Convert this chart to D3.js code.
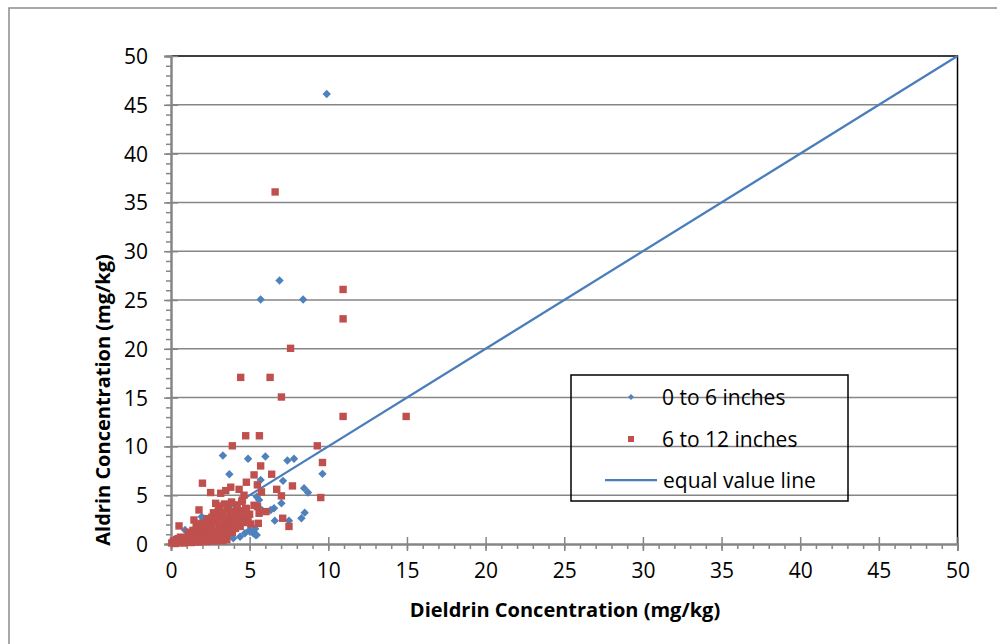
<!DOCTYPE html>
<html><head><meta charset="utf-8">
<script src="https://cdn.jsdelivr.net/npm/d3@7/dist/d3.min.js"></script>
<style>body{margin:0;background:#fff}svg{display:block}</style>
</head><body><svg id="c" width="997" height="644"></svg>
<script>
// ---- data ----
const seriesNames = ["0 to 6 inches", "6 to 12 inches", "equal value line"];
const xTicks = [0,5,10,15,20,25,30,35,40,45,50];
const yTicks = [0,5,10,15,20,25,30,35,40,45,50];
const minorTicks = d3.range(0,51,1);
const equalLine = [[0,0],[50,50]];
// 0 to 6 inches (Dieldrin, Aldrin)
const shallow = [
 [9.9,46.1],[6.9,27.0],[5.7,25.05],[8.4,25.05],
 [3.3,9.07],[4.9,8.73],[6.0,8.97],[7.4,8.55],[7.82,8.73],
 [3.71,7.15],[9.63,7.19],[5.7,6.57],[7.12,6.47],
 [8.46,5.72],[8.71,5.27],[5.6,4.52],[7.02,4.18],[6.55,3.66],[6.34,3.49],
 [8.5,3.21],[8.29,2.64],[6.6,2.39],[7.5,2.39],[5.38,0.92],[5.32,1.5],[4.1,3.49],
 [2.05,2.53],[2.37,2.12],[0.89,1.43],[1.42,0.75],[0.78,0.41],[3.96,4.17],[5.45,4.85],
 [5.0,1.43],[4.39,0.75],[5.77,3.48],[5.23,1.1],[1.95,2.8],[4.07,3.38],[3.43,2.8],
 [3.96,2.12],[5.02,1.26],[5.45,0.92],[5.34,1.6],[3.96,0.58],[4.7,1.1],[3.22,0.41],
 [2.37,0.41],[1.1,0.92],[0.3,0.2],[0.6,0.5],[1.0,0.6],[1.5,1.0],[2.0,1.2],[2.5,1.8],
 [3.0,2.0],[3.5,2.5],[4.0,3.0],[3.0,0.9],[4.6,2.6]
];
// 6 to 12 inches (Dieldrin, Aldrin)
const deep = [
 [6.62,36.07],[10.94,26.08],[10.94,23.07],[7.6,20.05],[4.43,17.07],[6.3,17.07],[7.02,15.06],
 [10.94,13.07],[14.95,13.07],[4.75,11.09],[5.62,11.09],[3.9,10.06],[9.3,10.06],
 [9.63,8.35],[5.7,8.0],[5.28,7.08],[6.4,7.15],[2.0,6.23],[4.79,6.33],[5.49,6.06],[7.72,5.95],
 [3.8,5.82],[2.52,5.27],[3.16,5.2],[3.48,5.47],[4.33,5.6],[5.75,5.34],[6.72,5.6],[7.02,4.93],
 [4.64,5.0],[4.54,4.5],[9.52,4.76],[2.84,4.17],[3.59,3.97],[1.78,3.49],[4.75,3.66],[5.28,3.97],
 [6.04,3.32],[7.1,2.64],[7.5,1.8],[5.6,3.15],[1.46,2.46],[0.51,1.85],[5.07,2.05],[5.55,2.12],[5.5,3.83],
 [0.05,0.1],[0.3,0.05],[0.55,0.15],[0.8,0.1],[1.05,0.2],[1.3,0.15],[1.55,0.25],[1.8,0.2],[2.05,0.3],
 [2.3,0.25],[2.55,0.35],[2.8,0.3],[3.05,0.4],[3.3,0.35],[3.55,0.45],
 [0.35,0.45],[0.6,0.7],[0.9,0.6],[1.2,0.8],[1.5,0.7],[1.8,0.9],[2.1,0.8],[2.4,0.95],[2.7,0.85],
 [3.0,1.0],[3.3,0.9],[3.6,1.1],[3.9,1.2],
 [1.1,1.2],[1.4,1.4],[1.7,1.3],[2.0,1.5],[2.3,1.4],[2.6,1.5],[2.9,1.4],[3.2,1.6],[3.5,1.5],
 [3.8,1.7],[4.1,1.6],[4.4,1.8],
 [1.6,1.9],[1.9,2.1],[2.2,1.95],[2.5,2.1],[2.8,2.2],[3.1,2.05],[3.4,2.2],[3.7,2.3],[4.0,2.1],
 [4.3,2.4],[4.6,2.2],[4.9,2.5],
 [2.3,2.6],[2.6,2.75],[2.9,2.65],[3.2,2.8],[3.5,2.7],[3.8,2.9],[4.1,2.75],[4.4,3.0],[4.7,2.85],[5.0,3.05],
 [2.7,3.2],[3.0,3.4],[3.3,3.25],[3.6,3.5],[3.9,3.35],[4.2,3.55],[4.5,3.4],[4.8,3.6],
 [3.1,3.9],[3.4,4.1],[3.85,4.3],[4.2,4.0],[4.5,4.35],
 [0.15,0.3],[0.45,0.55],[0.7,0.35],[1.0,0.45],[1.3,0.55],[1.6,0.5],[1.9,0.55],[2.2,0.6],
 [2.5,0.65],[2.8,0.6],[3.1,0.7],[3.4,0.65]
];

// ---- drawing ----
const blue = "#4F81BD", red = "#C0504D", grid = "#868686";
const font = "'Open Sans', sans-serif";
const svg = d3.select("#c");
const x = d3.scaleLinear().domain([0,50]).range([171,957.5]);
const y = d3.scaleLinear().domain([0,50]).range([544,56]);

// outer chart border
svg.append("rect").attr("x",9).attr("y",8).attr("width",1010).attr("height",700)
  .attr("fill","#fff").attr("stroke","#8c8c8c").attr("stroke-width",1.5);

// horizontal gridlines
svg.append("g").selectAll("line").data(yTicks.filter(d=>d>0 && d<50)).join("line")
  .attr("x1",x(0)).attr("x2",x(50)).attr("y1",d=>y(d)).attr("y2",d=>y(d))
  .attr("stroke",grid).attr("stroke-width",1.5);
// plot border top/right
svg.append("path").attr("d",`M${x(0)},${y(50)}H${x(50)}V${y(0)}`)
  .attr("fill","none").attr("stroke","#000").attr("stroke-width",1.5);

// minor ticks
const gxm = svg.append("g").attr("transform",`translate(0,${y(0)})`)
  .call(d3.axisBottom(x).tickValues(minorTicks).tickSize(5).tickFormat(""));
const gym = svg.append("g").attr("transform",`translate(${x(0)},0)`)
  .call(d3.axisLeft(y).tickValues(minorTicks).tickSize(5).tickFormat(""));
// major axes
const gx = svg.append("g").attr("transform",`translate(0,${y(0)})`)
  .call(d3.axisBottom(x).tickValues(xTicks).tickSize(7).tickPadding(14));
const gy = svg.append("g").attr("transform",`translate(${x(0)},0)`)
  .call(d3.axisLeft(y).tickValues(yTicks).tickSize(7).tickPadding(16));
gx.selectAll(".tick line").attr("y1",-7);
gy.selectAll(".tick line").attr("x1",7);
[gxm,gym,gx,gy].forEach(g=>{
  g.selectAll("path.domain").attr("stroke",grid).attr("stroke-width",2);
  g.selectAll(".tick line").attr("stroke",grid).attr("stroke-width",1.5);
  g.selectAll("text").attr("font-family",font).attr("font-size",21).attr("fill","#000");
});
gy.selectAll("text").attr("dy","0.36em");
gx.selectAll("text").attr("dy","0.62em");

// equal value line
const line = d3.line().x(d=>x(d[0])).y(d=>y(d[1]));
svg.append("path").datum(equalLine).attr("d",line)
  .attr("fill","none").attr("stroke","#4A7EBB").attr("stroke-width",2.25);

const diamond = r => `M0,${-r}L${r},0L0,${r}L${-r},0Z`;
svg.append("g").selectAll("path").data(shallow).join("path")
  .attr("d",diamond(4.2)).attr("transform",d=>`translate(${x(d[0])},${y(d[1])})`)
  .attr("fill",blue);
svg.append("g").selectAll("rect").data(deep).join("rect")
  .attr("x",d=>x(d[0])-3.7).attr("y",d=>y(d[1])-3.7).attr("width",7.4).attr("height",7.4)
  .attr("fill",red);

// axis titles
svg.append("text").attr("x",565).attr("y",617).attr("text-anchor","middle")
  .attr("font-family",font).attr("font-weight","bold").attr("font-size",20)
  .text("Dieldrin Concentration (mg/kg)");
svg.append("text").attr("transform","translate(110,400) rotate(-90)").attr("text-anchor","middle")
  .attr("font-family",font).attr("font-weight","bold").attr("font-size",20)
  .text("Aldrin Concentration (mg/kg)");

// legend
const lg = svg.append("g");
lg.append("rect").attr("x",571).attr("y",375).attr("width",277).attr("height",126)
  .attr("fill","none").attr("stroke","#000").attr("stroke-width",1.5);
lg.append("path").attr("d",diamond(3)).attr("transform","translate(631,397)").attr("fill",blue);
lg.append("rect").attr("x",628).attr("y",436).attr("width",6).attr("height",6).attr("fill",red);
lg.append("line").attr("x1",605).attr("x2",657).attr("y1",480).attr("y2",480)
  .attr("stroke","#4A7EBB").attr("stroke-width",2.25);
lg.selectAll("text").data(seriesNames).join("text")
  .attr("x",(d,i)=>i<2?662:663).attr("y",(d,i)=>[397,439,480][i]).attr("dy","0.36em")
  .attr("font-family",font).attr("font-size",21).text(d=>d);
</script></body></html>
